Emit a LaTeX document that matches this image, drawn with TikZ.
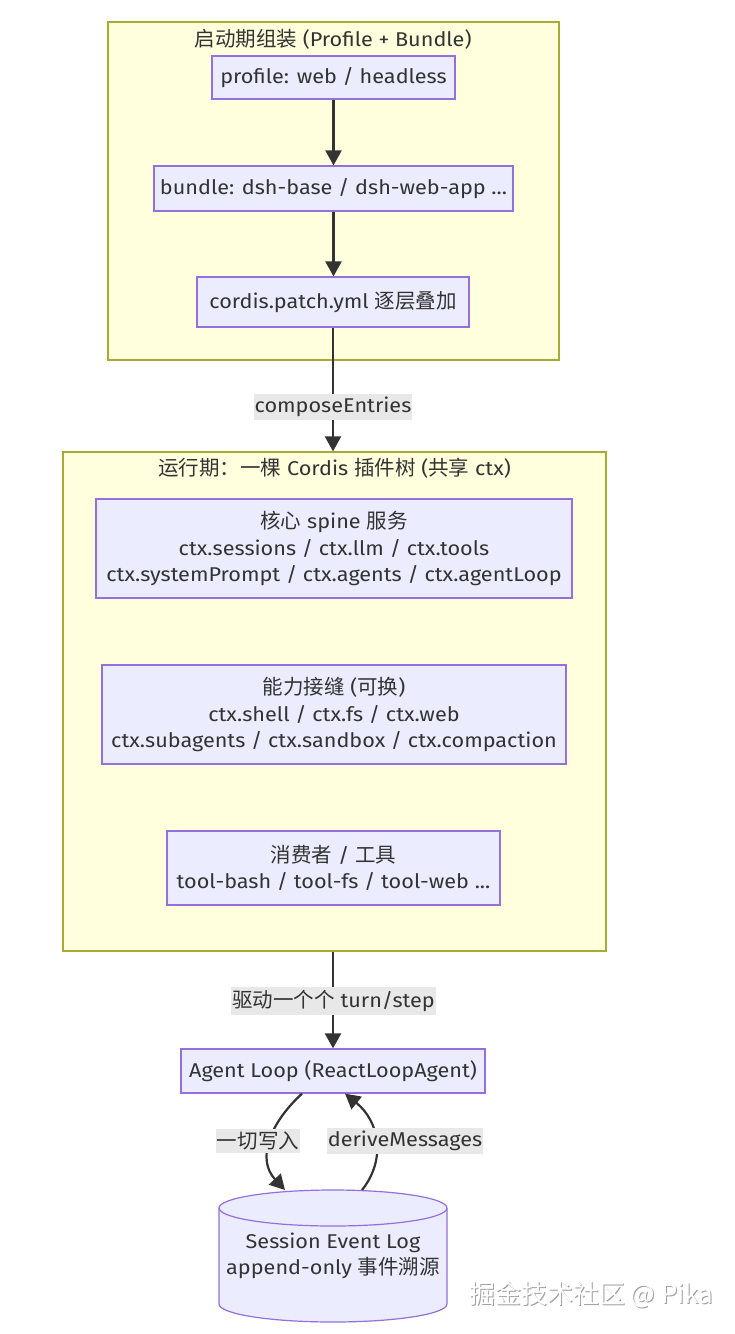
\documentclass[tikz,border=0pt]{standalone}
\usepackage{fontspec}
\setmainfont{Fira Sans}[Scale=1.05,FakeStretch=1.085]
\newfontfamily\cjk{Noto Sans CJK SC}[Scale=1.08]
\usetikzlibrary{arrows.meta}
\definecolor{clfill}{HTML}{FFFFDE}
\definecolor{cldraw}{HTML}{AAAA33}
\definecolor{ndfill}{HTML}{ECECFF}
\definecolor{nddraw}{HTML}{9370DB}
\definecolor{edgec}{HTML}{333333}
\definecolor{lblbg}{HTML}{E8E8E8}
\definecolor{txtc}{HTML}{333333}
\begin{document}
\begin{tikzpicture}[x=1pt,y=1pt,
  every node/.style={font=\fontsize{19}{26.5}\selectfont, text=txtc},
  cluster/.style n args={2}{draw=cldraw,fill=clfill,line width=1.2pt,inner sep=0pt,minimum width=#1pt,minimum height=#2pt},
  box/.style n args={2}{draw=nddraw,fill=ndfill,line width=1.2pt,inner sep=0pt,align=center,minimum width=#1pt,minimum height=#2pt},
  arr/.style={draw=edgec,line width=2.2pt,-{Triangle[length=15pt,width=16pt]}},
  lbl/.style={fill=lblbg,inner xsep=1pt,inner ysep=3pt}
]
\fill[white] (0,0) rectangle (734,-1334);
\useasboundingbox (0,0) rectangle (734,-1334);

% cluster 1
\node[cluster={451}{338}] (c1) at (333.5,-191) {};
\node (t1) at (333,-39) {{\cjk 启动期组装} (Profile + Bundle)};
\node[box={243}{43}] (profile) at (333.5,-77.5) {profile: web / headless};
\node[box={359}{45}] (bundle) at (333.5,-188.5) {bundle: dsh-base / dsh-web-app ...};
\node[box={272}{50}] (cordis) at (333,-302) {cordis.patch.yml {\cjk 逐层叠加}};

\draw[arr] (profile.south) -- (profile.south |- bundle.north);
\draw[arr] (bundle.south) -- (bundle.south |- cordis.north);

% cluster 2
\node[cluster={543}{499}] (c2) at (334.5,-701.5) {};
\node (t2) at (334.5,-468) {{\cjk 运行期：一棵} Cordis {\cjk 插件树} ({\cjk 共享} ctx)};
\node[box={476}{99}] (core) at (334,-548.5) {{\cjk 核心} spine {\cjk 服务}\\ctx.sessions / ctx.llm / ctx.tools\\ctx.systemPrompt / ctx.agents / ctx.agentLoop};
\node[box={464}{99}] (cap) at (334,-714.5) {{\cjk 能力接缝} ({\cjk 可换})\\ctx.shell / ctx.fs / ctx.web\\ctx.subagents / ctx.sandbox / ctx.compaction};
\node[box={333}{74}] (cons) at (333.5,-868) {{\cjk 消费者} / {\cjk 工具}\\tool-bash / tool-fs / tool-web ...};

\draw[arr] (cordis.south) -- (cordis.south |- c2.north);
\node[lbl] (l1) at (333,-407) {composeEntries};

% agent loop
\node[box={304}{44}] (agent) at (333,-1071) {Agent Loop (ReactLoopAgent)};
\draw[arr] (agent.north |- c2.south) -- (agent.north);
\node[lbl] (l2) at (333.5,-1001) {{\cjk 驱动一个个} turn/step};

% cylinder
\draw[draw=nddraw,fill=ndfill,line width=1.2pt]
  (219,-1208) -- (219,-1304) arc[start angle=180,end angle=360,x radius=114pt,y radius=18pt]
  -- (447,-1208) arc[start angle=0,end angle=180,x radius=114pt,y radius=18pt] -- cycle;
\draw[draw=nddraw,line width=1.2pt] (219,-1208) arc[start angle=180,end angle=360,x radius=114pt,y radius=18pt];
\node[align=center] (log) at (333,-1256) {Session Event Log\\append-only {\cjk 事件溯源}};
\coordinate (logL) at (285,-1190);
\coordinate (logR) at (362,-1190);
\coordinate (agL) at ([xshift=-31pt]agent.south);
\coordinate (agR) at ([xshift=12pt]agent.south);

\draw[arr] (agL) .. controls (268,-1125) and (257,-1160) .. (logL);
\draw[arr] (logR) .. controls (386,-1160) and (380,-1122) .. (agR);
\node[lbl] (l3) at (258,-1141) {{\cjk 一切写入}};
\node[lbl] (l4) at (405,-1141) {deriveMessages};

% watermark
\node[font=\cjk\fontsize{24}{29}\selectfont,text=gray!75] at (592.5,-1296) {掘金技术社区 @ Pika};
\node[font=\cjk\fontsize{24}{29}\selectfont,text=white] at (591.5,-1295) {掘金技术社区 @ Pika};
\end{tikzpicture}
\end{document}
